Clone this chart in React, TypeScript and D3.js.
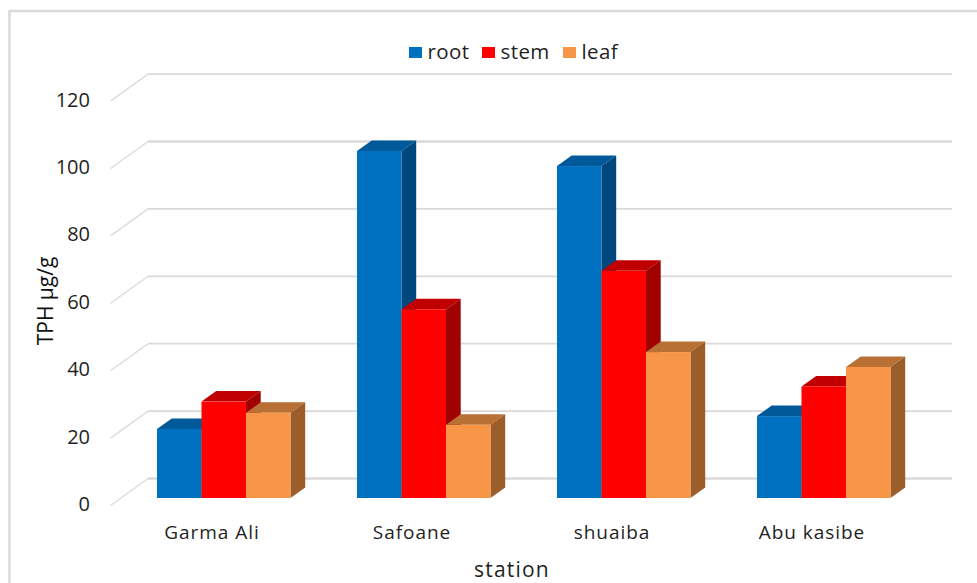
import React from "react";
import * as d3 from "d3";

const stations = ["Garma Ali", "Safoane", "shuaiba", "Abu kasibe"];
const parts = ["root", "stem", "leaf"];
const rootValues = [20.5, 103, 98.5, 24.3];
const stemValues = [28.6, 56, 67.4, 33.1];
const leafValues = [25.3, 21.7, 43.3, 38.9];
const seriesValues = [rootValues, stemValues, leafValues];
const yTicks = [0, 20, 40, 60, 80, 100, 120];

const frontColors = ["#0070c0", "#ff0000", "#f79646"];
const topColors = ["#005a9a", "#c00000", "#b97034"];
const sideColors = ["#00477d", "#a00000", "#9b5e2b"];

const W = 977;
const H = 583;
const DX = 14.7;
const DY = 10.5;
const FONT = "'Open Sans', sans-serif";
const INK = "#1f1f1f";

const y = d3.scaleLinear().domain([0, 120]).range([498, 93.6]);
const stationBand = d3.scaleBand<string>().domain(stations).range([124, 924]).paddingInner(0).paddingOuter(0);
const partBand = d3.scaleBand<string>().domain(parts).range([33, 166.5]);

function poly(points: [number, number][]) {
  return points.map((p) => p.join(",")).join(" ");
}

export default function App() {
  // Bars are painted series by series so each one overlaps the side of its left neighbour.
  const bars = stations.flatMap((st, i) =>
    parts.map((part, s) => {
      const x0 = (stationBand(st) as number) + (partBand(part) as number);
      const x1 = x0 + partBand.bandwidth();
      const top = y(seriesValues[s][i]);
      const base = y(0);
      return (
        <g key={st + part}>
          <polygon
            points={poly([[x0, top], [x0 + DX, top - DY], [x1 + DX, top - DY], [x1, top]])}
            fill={topColors[s]}
          />
          <polygon
            points={poly([[x1, top], [x1 + DX, top - DY], [x1 + DX, base - DY], [x1, base]])}
            fill={sideColors[s]}
          />
          <rect x={x0} y={top} width={x1 - x0} height={base - top} fill={frontColors[s]} />
        </g>
      );
    })
  );

  return (
    <svg
      width={W}
      height={H}
      viewBox={`0 0 ${W} ${H}`}
      style={{ position: "absolute", left: 0, top: 0, background: "#fff" }}
    >
      <path d="M9.5 583V11H977" fill="none" stroke="#d9d9d9" strokeWidth={2.5} />

      {yTicks.map((t) => (
        <g key={t} fill="none">
          <line x1={110.5} y1={y(t) + 7.5} x2={148} y2={y(t) - 19.5} stroke="#dcdcdc" strokeWidth={1.4} />
          <line x1={148} y1={y(t) - 19.5} x2={952} y2={y(t) - 19.5} stroke="#d9d9d9" strokeWidth={t === 0 || t === 100 ? 2.6 : 1.8} />
        </g>
      ))}

      {yTicks.map((t) => (
        <text key={t} x={90} y={y(t) + 13} textAnchor="end" fontFamily={FONT} fontSize={20} fill={INK}>
          {t}
        </text>
      ))}

      {bars}

      {stations.map((st) => (
        <text
          key={st}
          x={(stationBand(st) as number) + 88}
          y={539}
          textAnchor="middle"
          fontFamily={FONT}
          fontSize={19}
          letterSpacing={0.95}
          fill={INK}
        >
          {st}
        </text>
      ))}

      {parts.map((part, s) => {
        const xs = [408, 481, 562];
        return (
          <g key={part}>
            <rect x={xs[s] + 1} y={47} width={13} height={11} fill={frontColors[s]} />
            <text x={xs[s] + 19.5} y={59} fontFamily={FONT} fontSize={20.5} letterSpacing={0.4} fill={INK}>
              {part}
            </text>
          </g>
        );
      })}

      <text
        transform="translate(53,301) rotate(-90)"
        textAnchor="middle"
        fontFamily={FONT}
        fontSize={21}
        fontWeight={500}
        fill="#111"
      >
        TPH µg/g
      </text>
      <text x={512} y={577} textAnchor="middle" fontFamily={FONT} fontSize={21} letterSpacing={1.2} fill={INK}>
        station
      </text>
    </svg>
  );
}
